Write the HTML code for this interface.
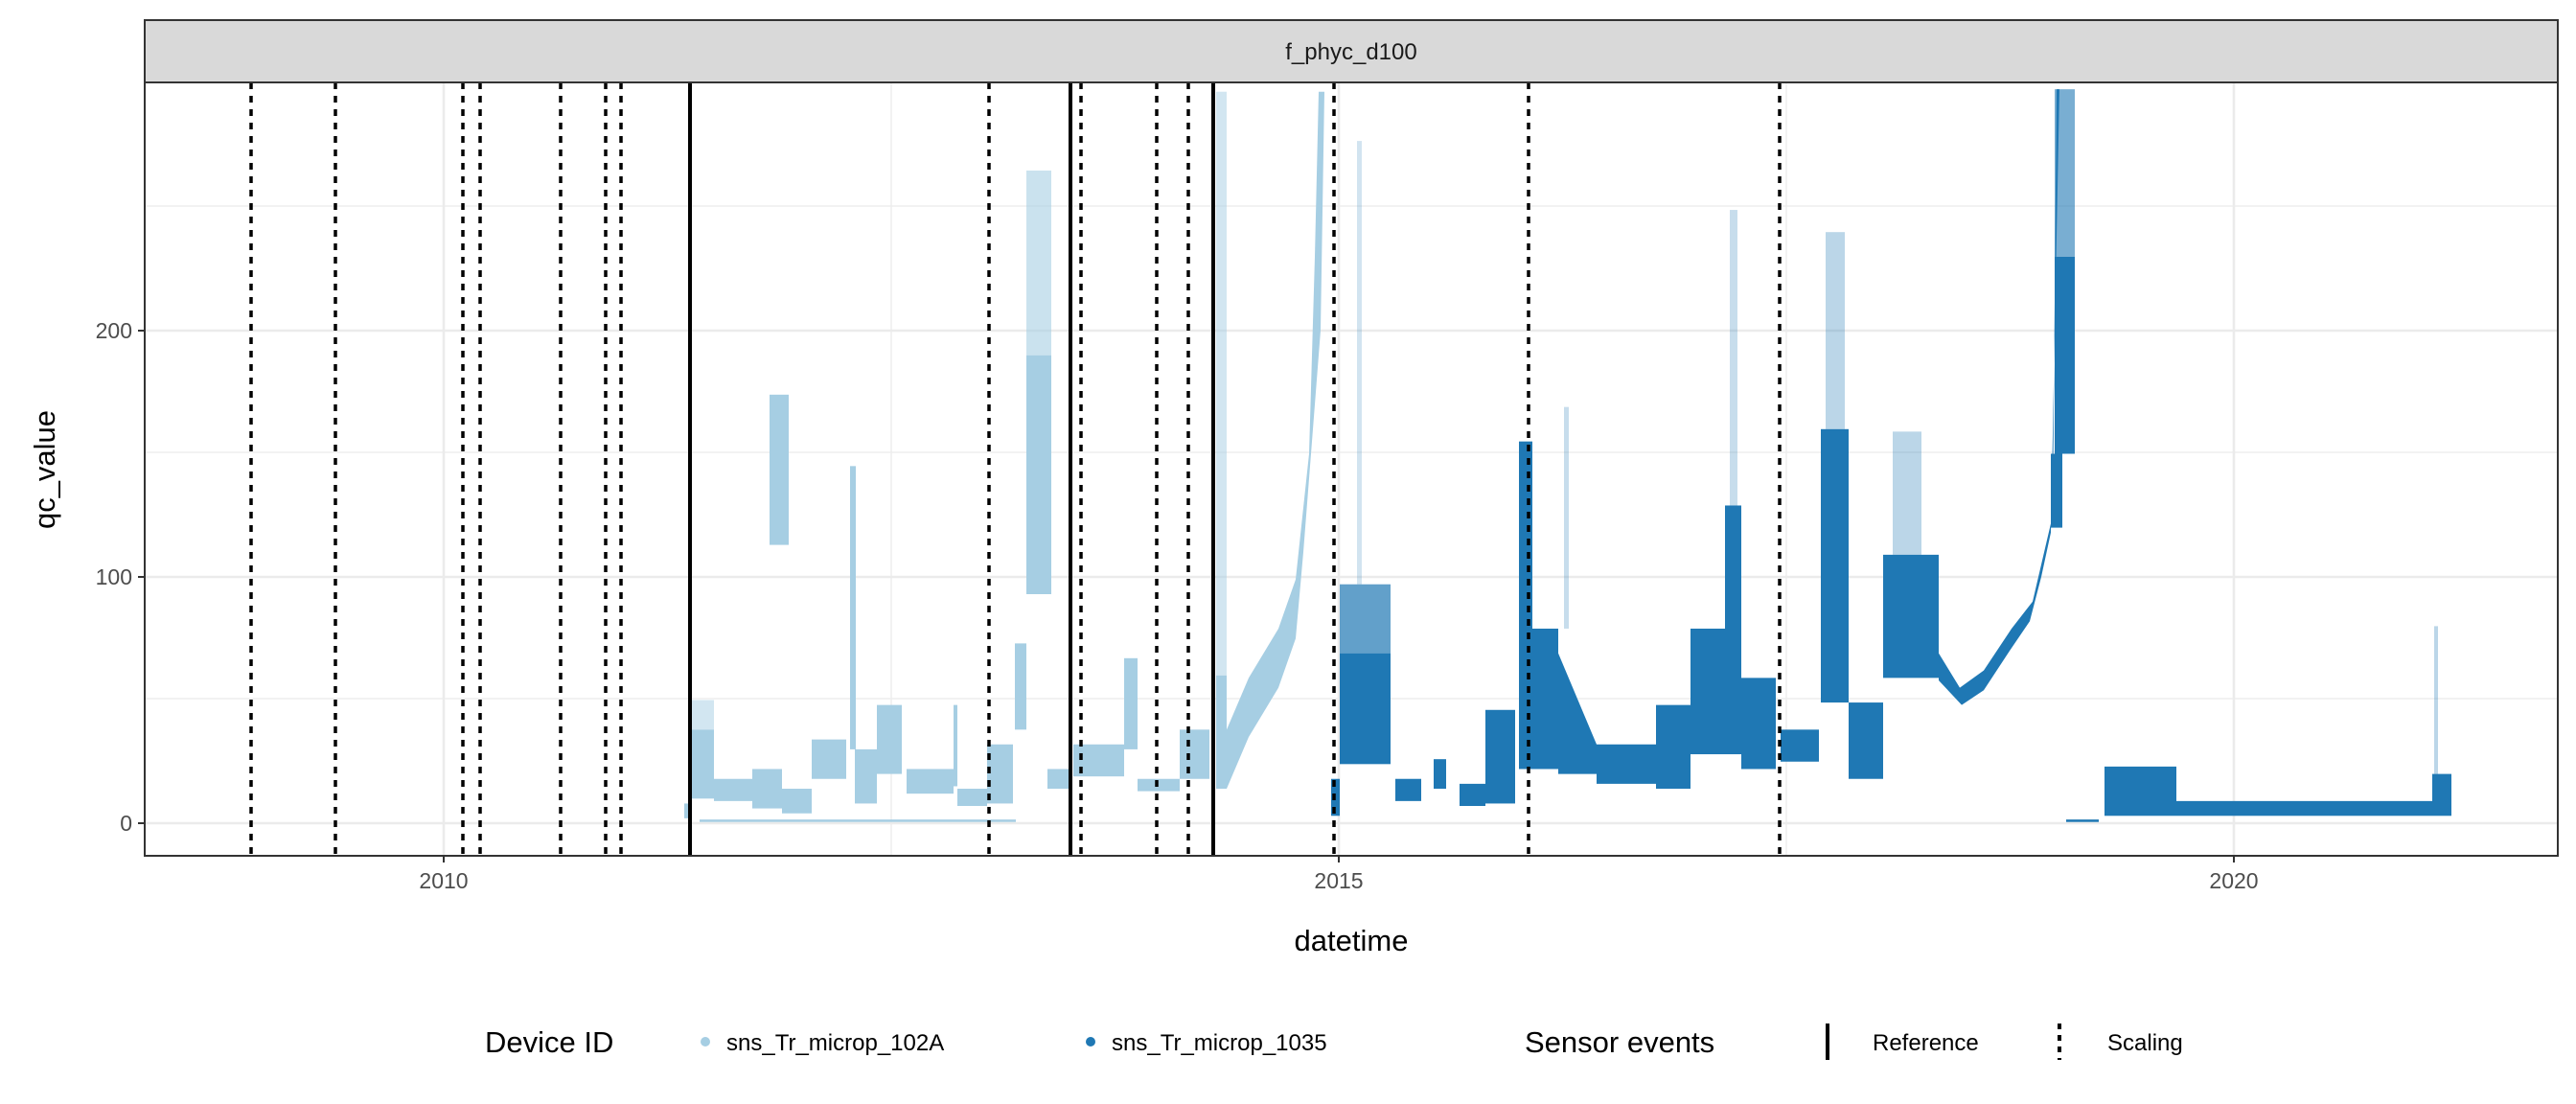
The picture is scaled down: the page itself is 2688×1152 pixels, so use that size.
<!DOCTYPE html>
<html><head><meta charset="utf-8"><style>
html,body{margin:0;padding:0;background:#fff}
svg{display:block;font-family:"Liberation Sans",sans-serif}
</style></head><body>
<svg width="2688" height="1152" viewBox="0 0 2688 1152" xmlns="http://www.w3.org/2000/svg">
<rect width="2688" height="1152" fill="#fff"/>
<rect x="151" y="21" width="2518" height="65" fill="#d9d9d9" stroke="#333" stroke-width="2"/>
<text x="1410" y="62" font-size="24" text-anchor="middle" fill="#1a1a1a">f_phyc_d100</text>
<g stroke="#ebebeb">
<line x1="151" x2="2669" y1="729" y2="729" stroke-width="1.3"/>
<line x1="151" x2="2669" y1="472" y2="472" stroke-width="1.3"/>
<line x1="151" x2="2669" y1="215" y2="215" stroke-width="1.3"/>
<line x1="930" x2="930" y1="86" y2="893" stroke-width="1.3"/>
<line x1="1864" x2="1864" y1="86" y2="893" stroke-width="1.3"/>
<line x1="151" x2="2669" y1="859" y2="859" stroke-width="2.6"/>
<line x1="151" x2="2669" y1="602" y2="602" stroke-width="2.6"/>
<line x1="151" x2="2669" y1="345" y2="345" stroke-width="2.6"/>
<line x1="463" x2="463" y1="86" y2="893" stroke-width="2.6"/>
<line x1="1397" x2="1397" y1="86" y2="893" stroke-width="2.6"/>
<line x1="2331" x2="2331" y1="86" y2="893" stroke-width="2.6"/>
</g>
<g transform="translate(0,859) scale(1,-2.57)" fill="#a6cee3">
<rect x="730" width="330" y="0.5" height="1"/>
<rect x="714" width="8" y="2" height="6"/>
<rect x="722" width="23" y="10" height="28"/>
<rect x="722" width="23" y="38" height="12" opacity="0.5"/>
<rect x="745" width="40" y="9" height="9"/>
<rect x="785" width="31" y="6" height="16"/>
<rect x="816" width="31" y="4" height="10"/>
<rect x="847" width="36" y="18" height="16"/>
<rect x="887" width="6" y="30" height="115"/>
<rect x="892" width="23" y="8" height="22"/>
<rect x="915" width="26" y="20" height="28"/>
<rect x="946" width="49" y="12" height="10"/>
<rect x="995" width="4" y="15" height="33"/>
<rect x="999" width="31" y="7" height="7"/>
<rect x="1030" width="27" y="8" height="24"/>
<rect x="1059" width="12" y="38" height="35"/>
<rect x="1071" width="26" y="93" height="97"/>
<rect x="1071" width="26" y="190" height="75" opacity="0.6"/>
<rect x="1093" width="22" y="14" height="8"/>
<rect x="1120" width="53" y="19" height="13"/>
<rect x="1173" width="14" y="30" height="37"/>
<rect x="1187" width="44" y="13" height="5"/>
<rect x="1231" width="31" y="18" height="20"/>
<rect x="1269" width="11" y="14" height="46"/>
<rect x="1269" width="11" y="60" height="237" opacity="0.5"/>
<rect x="803" width="20" y="113" height="61"/>
<polygon points="1280,38 1303,59 1334,79 1352,99 1366,150 1372,230 1376,297 1382,297 1378,200 1360,110 1352,75 1334,55 1303,35 1280,14"/>
</g>
<g transform="translate(0,859) scale(1,-2.57)" fill="#1f78b4">
<rect x="1389" width="9" y="3" height="15"/>
<rect x="1398" width="53" y="24" height="45"/>
<rect x="1398" width="53" y="69" height="28" opacity="0.7"/>
<rect x="1416" width="5" y="97" height="180" opacity="0.2"/>
<rect x="1456" width="27" y="9" height="9"/>
<rect x="1496" width="13" y="14" height="12"/>
<rect x="1523" width="27" y="7" height="9"/>
<rect x="1550" width="31" y="8" height="38"/>
<rect x="1585" width="14" y="22" height="133"/>
<rect x="1599" width="27" y="22" height="57"/>
<rect x="1632" width="5" y="79" height="90" opacity="0.25"/>
<polygon points="1626,20 1626,69 1666,32 1666,20"/>
<rect x="1666" width="62" y="16" height="16"/>
<rect x="1728" width="36" y="14" height="34"/>
<rect x="1764" width="36" y="28" height="51"/>
<rect x="1800" width="17" y="28" height="101"/>
<rect x="1805" width="8" y="129" height="120" opacity="0.25"/>
<rect x="1817" width="36" y="22" height="37"/>
<rect x="1858" width="40" y="25" height="13"/>
<rect x="1900" width="29" y="49" height="111"/>
<rect x="1905" width="20" y="160" height="80" opacity="0.3"/>
<rect x="1929" width="36" y="18" height="31"/>
<rect x="1965" width="58" y="59" height="50"/>
<rect x="1975" width="30" y="109" height="50" opacity="0.3"/>
<polygon points="2023,69 2045,55 2070,62 2099,79 2121,90 2133,110 2142,125 2146,298 2149,298 2140,118 2130,100 2118,82 2097,70 2070,54 2047,48 2023,58"/>
<rect x="2144" width="21" y="150" height="80"/>
<rect x="2144" width="21" y="230" height="68" opacity="0.6"/>
<rect x="2140" width="12" y="120" height="30"/>
<rect x="2156" width="34" y="0.5" height="1"/>
<rect x="2196" width="75" y="3" height="20"/>
<rect x="2271" width="287" y="3" height="6"/>
<rect x="2538" width="20" y="4" height="16"/>
<rect x="2540" width="4" y="20" height="60" opacity="0.3"/>
</g>
<g stroke="#000" stroke-width="3.5" stroke-dasharray="7,7">
<line x1="262" x2="262" y1="86" y2="893"/><line x1="350" x2="350" y1="86" y2="893"/>
<line x1="483" x2="483" y1="86" y2="893"/><line x1="501" x2="501" y1="86" y2="893"/>
<line x1="585" x2="585" y1="86" y2="893"/><line x1="632" x2="632" y1="86" y2="893"/>
<line x1="648" x2="648" y1="86" y2="893"/><line x1="1032" x2="1032" y1="86" y2="893"/>
<line x1="1128" x2="1128" y1="86" y2="893"/><line x1="1207" x2="1207" y1="86" y2="893"/>
<line x1="1240" x2="1240" y1="86" y2="893"/><line x1="1392" x2="1392" y1="86" y2="893"/>
<line x1="1595" x2="1595" y1="86" y2="893"/><line x1="1857" x2="1857" y1="86" y2="893"/>
</g>
<g stroke="#000" stroke-width="4">
<line x1="720" x2="720" y1="86" y2="893"/><line x1="1117" x2="1117" y1="86" y2="893"/><line x1="1266" x2="1266" y1="86" y2="893"/>
</g>
<rect x="151" y="86" width="2518" height="807" fill="none" stroke="#333" stroke-width="2"/>
<g stroke="#333" stroke-width="2">
<line x1="144" x2="151" y1="859" y2="859"/><line x1="144" x2="151" y1="602" y2="602"/><line x1="144" x2="151" y1="345" y2="345"/>
<line x1="463" x2="463" y1="893" y2="900"/><line x1="1397" x2="1397" y1="893" y2="900"/><line x1="2331" x2="2331" y1="893" y2="900"/>
</g>
<g font-size="23" fill="#4d4d4d">
<text x="138" y="867" text-anchor="end">0</text>
<text x="138" y="610" text-anchor="end">100</text>
<text x="138" y="353" text-anchor="end">200</text>
<text x="463" y="927" text-anchor="middle">2010</text>
<text x="1397" y="927" text-anchor="middle">2015</text>
<text x="2331" y="927" text-anchor="middle">2020</text>
</g>
<text x="1410" y="992" font-size="31" text-anchor="middle" fill="#000">datetime</text>
<text transform="translate(57,490) rotate(-90)" font-size="31" text-anchor="middle" fill="#000">qc_value</text>
<text x="506" y="1098" font-size="31" fill="#000">Device ID</text>
<circle cx="736" cy="1087" r="5" fill="#a6cee3"/>
<text x="758" y="1096" font-size="24" fill="#000">sns_Tr_microp_102A</text>
<circle cx="1138" cy="1087" r="5" fill="#1f78b4"/>
<text x="1160" y="1096" font-size="24" fill="#000">sns_Tr_microp_1035</text>
<text x="1591" y="1098" font-size="31" fill="#000">Sensor events</text>
<line x1="1907" x2="1907" y1="1068" y2="1106" stroke="#000" stroke-width="4"/>
<text x="1954" y="1096" font-size="24" fill="#000">Reference</text>
<line x1="2149" x2="2149" y1="1068" y2="1106" stroke="#000" stroke-width="4" stroke-dasharray="6,6"/>
<text x="2199" y="1096" font-size="24" fill="#000">Scaling</text>
</svg>
</body></html>
